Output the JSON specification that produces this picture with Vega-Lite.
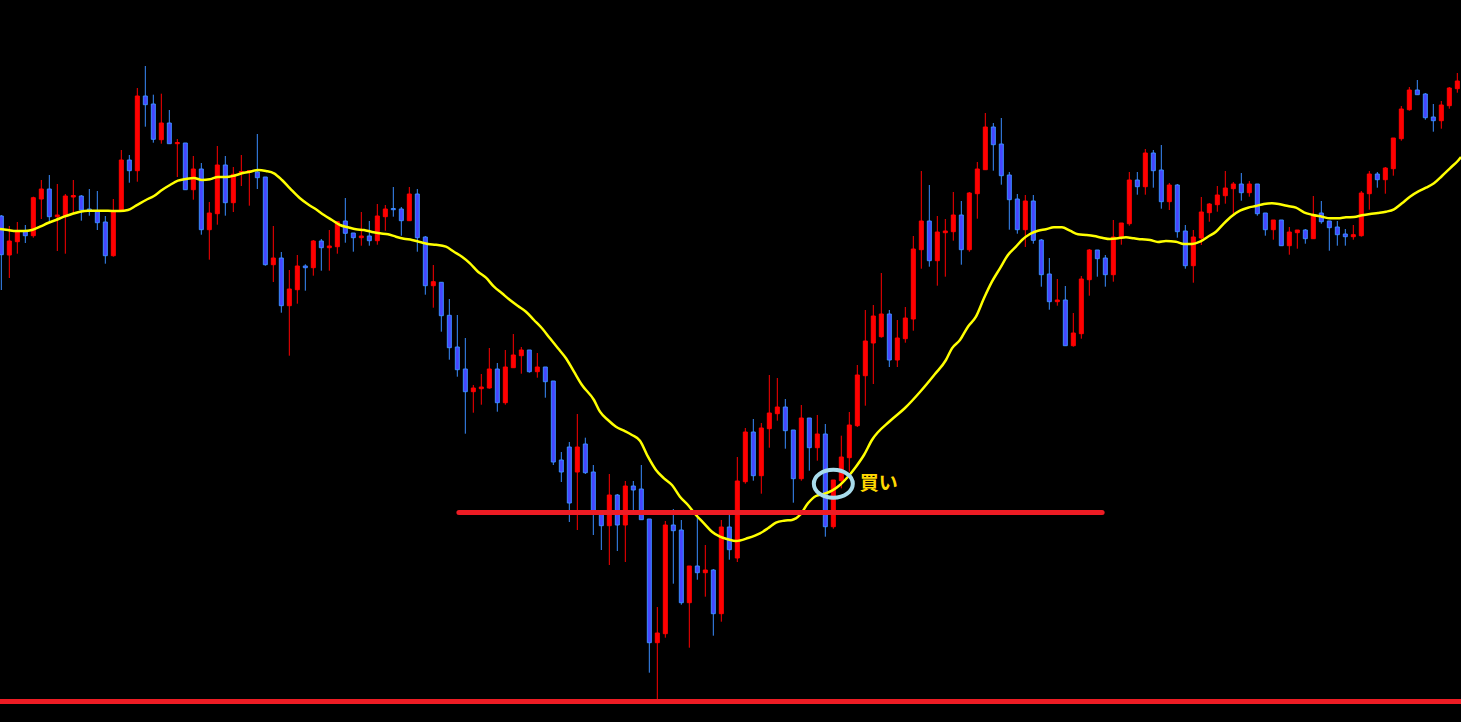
{
  "$schema": "https://vega.github.io/schema/vega-lite/v6.json",
  "width": 1461,
  "height": 722,
  "autosize": {"type": "none"},
  "padding": 0,
  "background": "#000000",
  "config": {"view": {"stroke": null}},
  "datasets": {
    "candles": [
      {"t":0,"o":506,"h":507,"l":432,"c":467.3},
      {"t":1,"o":467,"h":496,"l":444,"c":481},
      {"t":2,"o":480.3,"h":500,"l":468.3,"c":490.3},
      {"t":3,"o":490.3,"h":497,"l":479,"c":486.3},
      {"t":4,"o":486.3,"h":525.3,"l":484.3,"c":524.3},
      {"t":5,"o":523,"h":542,"l":503,"c":533},
      {"t":6,"o":533,"h":547,"l":500,"c":505.3},
      {"t":7,"o":505.3,"h":538,"l":471,"c":507},
      {"t":8,"o":506,"h":528,"l":468.3,"c":526},
      {"t":9,"o":525,"h":542,"l":509,"c":526.5},
      {"t":10,"o":526,"h":527,"l":501.3,"c":512},
      {"t":11,"o":513,"h":533,"l":506.3,"c":511.3},
      {"t":12,"o":511.3,"h":531,"l":492,"c":499.3},
      {"t":13,"o":500,"h":506,"l":458.3,"c":466.3},
      {"t":14,"o":466.3,"h":523,"l":465.3,"c":511.3},
      {"t":15,"o":511.3,"h":572,"l":511.3,"c":562},
      {"t":16,"o":562,"h":567,"l":539.3,"c":551.3},
      {"t":17,"o":551.3,"h":634,"l":540.3,"c":626},
      {"t":18,"o":626,"h":656,"l":595.3,"c":617.3},
      {"t":19,"o":618,"h":627.3,"l":579.3,"c":582.7},
      {"t":20,"o":582.3,"h":628.3,"l":578.3,"c":599},
      {"t":21,"o":599,"h":612,"l":578.3,"c":578.3},
      {"t":22,"o":578.3,"h":583,"l":545,"c":579.5},
      {"t":23,"o":579,"h":579,"l":532.3,"c":532.3},
      {"t":24,"o":532.3,"h":566,"l":522.3,"c":553},
      {"t":25,"o":553,"h":559,"l":487.3,"c":492.3},
      {"t":26,"o":492.3,"h":520,"l":462.3,"c":509},
      {"t":27,"o":508.3,"h":576,"l":497.3,"c":557},
      {"t":28,"o":557,"h":566,"l":506.3,"c":519.3},
      {"t":29,"o":519.3,"h":555,"l":510,"c":547.7},
      {"t":30,"o":549.3,"h":567,"l":536,"c":550.5},
      {"t":31,"o":550,"h":552,"l":516.3,"c":551.5},
      {"t":32,"o":550,"h":588,"l":533,"c":544.3},
      {"t":33,"o":545,"h":545,"l":456.3,"c":457.3},
      {"t":34,"o":457.3,"h":496,"l":440,"c":464},
      {"t":35,"o":464,"h":470,"l":409.3,"c":416.3},
      {"t":36,"o":416.3,"h":452,"l":366.3,"c":433},
      {"t":37,"o":432.3,"h":467,"l":418.3,"c":456},
      {"t":38,"o":456,"h":457.7,"l":431.3,"c":454.3},
      {"t":39,"o":454.3,"h":482,"l":446.3,"c":481},
      {"t":40,"o":481,"h":483,"l":451.3,"c":474.3},
      {"t":41,"o":474.3,"h":492,"l":451.3,"c":476},
      {"t":42,"o":475.3,"h":501,"l":468.3,"c":500.3},
      {"t":43,"o":501,"h":524,"l":479.3,"c":488.7},
      {"t":44,"o":489,"h":489,"l":470.3,"c":484.3},
      {"t":45,"o":484.3,"h":510,"l":476.3,"c":486},
      {"t":46,"o":486,"h":501,"l":476.3,"c":481.3},
      {"t":47,"o":481.3,"h":518,"l":477.3,"c":506},
      {"t":48,"o":505.3,"h":517,"l":491.3,"c":513},
      {"t":49,"o":513.5,"h":535,"l":505.3,"c":512.3},
      {"t":50,"o":513,"h":515,"l":486.3,"c":501.3},
      {"t":51,"o":501.3,"h":535,"l":501.3,"c":528},
      {"t":52,"o":528,"h":533,"l":470.3,"c":484.3},
      {"t":53,"o":485,"h":486,"l":427.3,"c":436.3},
      {"t":54,"o":436.3,"h":457,"l":414.3,"c":440.3},
      {"t":55,"o":439.7,"h":439.7,"l":390.3,"c":406.3},
      {"t":56,"o":406.7,"h":423,"l":362.3,"c":374.3},
      {"t":57,"o":375,"h":407,"l":345.3,"c":352.3},
      {"t":58,"o":353,"h":384,"l":288.3,"c":330.3},
      {"t":59,"o":330.3,"h":337,"l":309.3,"c":334},
      {"t":60,"o":333.3,"h":348,"l":317.3,"c":335},
      {"t":61,"o":334,"h":374,"l":333.3,"c":353},
      {"t":62,"o":353,"h":359,"l":310.3,"c":319.3},
      {"t":63,"o":319.3,"h":372,"l":317.3,"c":355},
      {"t":64,"o":354.3,"h":388,"l":354.3,"c":367},
      {"t":65,"o":366.3,"h":375,"l":348.3,"c":372},
      {"t":66,"o":372,"h":372,"l":349.3,"c":350.3},
      {"t":67,"o":350.3,"h":369,"l":344.3,"c":355},
      {"t":68,"o":355,"h":355,"l":324.3,"c":340.3},
      {"t":69,"o":341,"h":341,"l":257,"c":260},
      {"t":70,"o":262,"h":270,"l":240,"c":250},
      {"t":71,"o":275,"h":280,"l":200,"c":219},
      {"t":72,"o":250,"h":308,"l":192,"c":275},
      {"t":73,"o":278,"h":284.3,"l":248,"c":249.3},
      {"t":74,"o":250,"h":257,"l":187,"c":210},
      {"t":75,"o":210.3,"h":211,"l":172,"c":196.3},
      {"t":76,"o":196.3,"h":248,"l":157,"c":227},
      {"t":77,"o":227,"h":228,"l":171,"c":197},
      {"t":78,"o":197,"h":241,"l":160,"c":236},
      {"t":79,"o":236,"h":241,"l":212,"c":232},
      {"t":80,"o":233,"h":257,"l":202.3,"c":202.3},
      {"t":81,"o":203,"h":203,"l":49.3,"c":79.3},
      {"t":82,"o":79.3,"h":115,"l":23,"c":89},
      {"t":83,"o":88.3,"h":201,"l":84.3,"c":197},
      {"t":84,"o":197,"h":213,"l":138.3,"c":191.3},
      {"t":85,"o":192,"h":202,"l":117.3,"c":119.3},
      {"t":86,"o":119.3,"h":156,"l":74.3,"c":156},
      {"t":87,"o":156,"h":207,"l":142.3,"c":149.3},
      {"t":88,"o":149.3,"h":177,"l":125.3,"c":152},
      {"t":89,"o":152,"h":153,"l":86.3,"c":108.3},
      {"t":90,"o":108.3,"h":202,"l":100.3,"c":195},
      {"t":91,"o":195,"h":207,"l":162.3,"c":172.3},
      {"t":92,"o":164,"h":265,"l":160,"c":241},
      {"t":93,"o":240.3,"h":294,"l":238.3,"c":290},
      {"t":94,"o":290,"h":303,"l":241.3,"c":246.3},
      {"t":95,"o":246.3,"h":299,"l":228.3,"c":294},
      {"t":96,"o":293.3,"h":347,"l":274.3,"c":309},
      {"t":97,"o":308.3,"h":344,"l":301.3,"c":315},
      {"t":98,"o":315,"h":323,"l":273.3,"c":291.3},
      {"t":99,"o":292,"h":292,"l":219.3,"c":243.3},
      {"t":100,"o":243.3,"h":317,"l":241.3,"c":304},
      {"t":101,"o":304,"h":304,"l":251.3,"c":274.3},
      {"t":102,"o":274.3,"h":307,"l":261.3,"c":288},
      {"t":103,"o":288,"h":298,"l":185.3,"c":195.3},
      {"t":104,"o":195.3,"h":242,"l":193.3,"c":242},
      {"t":105,"o":241.3,"h":286.3,"l":233.7,"c":265},
      {"t":106,"o":264.3,"h":310,"l":250.3,"c":297},
      {"t":107,"o":296.3,"h":357,"l":295,"c":347},
      {"t":108,"o":346.3,"h":412,"l":316.3,"c":381},
      {"t":109,"o":379,"h":417,"l":338,"c":406},
      {"t":110,"o":385.3,"h":449,"l":384.3,"c":408},
      {"t":111,"o":408,"h":412,"l":355,"c":362},
      {"t":112,"o":362,"h":402,"l":355,"c":384},
      {"t":113,"o":383.3,"h":415,"l":379.3,"c":404},
      {"t":114,"o":403,"h":486,"l":391.3,"c":473},
      {"t":115,"o":472.3,"h":551,"l":453.3,"c":501},
      {"t":116,"o":501,"h":537,"l":455.3,"c":461.3},
      {"t":117,"o":461.3,"h":506,"l":436.3,"c":490},
      {"t":118,"o":489.3,"h":503,"l":445.3,"c":491},
      {"t":119,"o":490.3,"h":530,"l":481.3,"c":507},
      {"t":120,"o":507,"h":521,"l":457.3,"c":472.3},
      {"t":121,"o":472.3,"h":530,"l":470.3,"c":529},
      {"t":122,"o":528.3,"h":560,"l":503.3,"c":553},
      {"t":123,"o":552.3,"h":609,"l":552.3,"c":595},
      {"t":124,"o":595,"h":599,"l":551.3,"c":577.3},
      {"t":125,"o":578,"h":604,"l":537.3,"c":546.3},
      {"t":126,"o":547,"h":550,"l":492.3,"c":522.3},
      {"t":127,"o":523,"h":528,"l":488.3,"c":492.3},
      {"t":128,"o":492.3,"h":527,"l":475,"c":521},
      {"t":129,"o":521,"h":527,"l":478.3,"c":481.7},
      {"t":130,"o":482,"h":483,"l":435.3,"c":447.3},
      {"t":131,"o":448,"h":464,"l":412.3,"c":420.3},
      {"t":132,"o":420.3,"h":443,"l":416.3,"c":422},
      {"t":133,"o":422,"h":436,"l":376.3,"c":376.3},
      {"t":134,"o":376.3,"h":409,"l":375.3,"c":389},
      {"t":135,"o":388.3,"h":446,"l":383.3,"c":443},
      {"t":136,"o":442.3,"h":473,"l":426.3,"c":472},
      {"t":137,"o":472,"h":472,"l":445.3,"c":463.3},
      {"t":138,"o":464,"h":467,"l":435.3,"c":447.3},
      {"t":139,"o":447.3,"h":502,"l":440.3,"c":485},
      {"t":140,"o":484.3,"h":499,"l":477.3,"c":499},
      {"t":141,"o":498.3,"h":550,"l":496.3,"c":542},
      {"t":142,"o":542,"h":550,"l":527.3,"c":535.3},
      {"t":143,"o":535.3,"h":573,"l":527.3,"c":569},
      {"t":144,"o":569,"h":572,"l":534.3,"c":551.3},
      {"t":145,"o":552,"h":577,"l":513.3,"c":520.3},
      {"t":146,"o":520.3,"h":539,"l":512,"c":537},
      {"t":147,"o":537,"h":538,"l":484.3,"c":490.3},
      {"t":148,"o":491,"h":497,"l":453.3,"c":456.3},
      {"t":149,"o":456.3,"h":492,"l":439.3,"c":485},
      {"t":150,"o":484,"h":525,"l":477,"c":510},
      {"t":151,"o":509.3,"h":519,"l":500.3,"c":518},
      {"t":152,"o":517.3,"h":536,"l":510.3,"c":527},
      {"t":153,"o":526.3,"h":551,"l":518.3,"c":534},
      {"t":154,"o":533.3,"h":540,"l":507.3,"c":538},
      {"t":155,"o":538,"h":549,"l":521.3,"c":529.3},
      {"t":156,"o":529.3,"h":541,"l":525.3,"c":538},
      {"t":157,"o":538,"h":538,"l":506.3,"c":508.3},
      {"t":158,"o":509,"h":509,"l":486.3,"c":492.3},
      {"t":159,"o":492.3,"h":502,"l":482.3,"c":502},
      {"t":160,"o":502,"h":502,"l":476.3,"c":476.3},
      {"t":161,"o":476.3,"h":495,"l":467.3,"c":490},
      {"t":162,"o":489.3,"h":492,"l":473.3,"c":492},
      {"t":163,"o":492,"h":493,"l":478.3,"c":483.3},
      {"t":164,"o":483.3,"h":526,"l":483.3,"c":507},
      {"t":165,"o":509,"h":521,"l":498.3,"c":500.3},
      {"t":166,"o":501,"h":501,"l":471.3,"c":494.3},
      {"t":167,"o":495,"h":501,"l":476.3,"c":487.3},
      {"t":168,"o":488,"h":493,"l":476.3,"c":485.3},
      {"t":169,"o":485.3,"h":497,"l":482.3,"c":487.3},
      {"t":170,"o":486.3,"h":531,"l":485.3,"c":529},
      {"t":171,"o":528.3,"h":551,"l":512.3,"c":548},
      {"t":172,"o":548,"h":550,"l":534.3,"c":542.3},
      {"t":173,"o":542.3,"h":555,"l":528.3,"c":554},
      {"t":174,"o":553.3,"h":584,"l":546.3,"c":584},
      {"t":175,"o":583.3,"h":616,"l":581.3,"c":613},
      {"t":176,"o":612.3,"h":635,"l":611.3,"c":632},
      {"t":177,"o":632,"h":642,"l":627.3,"c":627.3},
      {"t":178,"o":628,"h":629,"l":602.3,"c":604.3},
      {"t":179,"o":605,"h":618,"l":590.3,"c":601.3},
      {"t":180,"o":601.3,"h":621,"l":593.3,"c":617},
      {"t":181,"o":616.3,"h":635,"l":613.3,"c":634},
      {"t":182,"o":633.3,"h":649,"l":629.3,"c":641}
    ],
    "ma": [
      {"t":-0.17,"v":493},{"t":0.83,"v":492},{"t":1.83,"v":491},{"t":2.83,"v":491},{"t":3.83,"v":492},
      {"t":4.83,"v":495.3},{"t":5.83,"v":499},{"t":6.83,"v":502},{"t":7.83,"v":505.3},{"t":8.83,"v":508},
      {"t":9.83,"v":510.3},{"t":10.83,"v":511.3},{"t":11.83,"v":511.3},{"t":12.83,"v":511.3},{"t":13.83,"v":511},
      {"t":14.83,"v":511},{"t":15.83,"v":512},{"t":16.83,"v":516.3},{"t":18.08,"v":522},{"t":19.08,"v":526},
      {"t":20.08,"v":532},{"t":21.08,"v":537},{"t":22.08,"v":541.3},{"t":23.08,"v":543},{"t":24.08,"v":544},
      {"t":25.08,"v":542},{"t":26.08,"v":542.7},{"t":27.08,"v":545},{"t":28.08,"v":545},{"t":29.08,"v":546.3},
      {"t":30.08,"v":548.7},{"t":31.08,"v":550.3},{"t":32.08,"v":552},{"t":33.08,"v":551},{"t":34.08,"v":548.7},
      {"t":35.08,"v":542},{"t":36.08,"v":533.7},{"t":37.33,"v":523.7},{"t":38.33,"v":517.7},{"t":39.33,"v":512.7},
      {"t":40.33,"v":507},{"t":41.33,"v":502},{"t":42.33,"v":497},{"t":43.33,"v":494.7},{"t":44.33,"v":492.7},
      {"t":45.33,"v":492},{"t":46.33,"v":490},{"t":47.33,"v":488.7},{"t":48.33,"v":487.7},{"t":49.33,"v":485.3},
      {"t":50.33,"v":483.3},{"t":51.33,"v":482},{"t":52.33,"v":480},{"t":53.33,"v":478},{"t":54.33,"v":477.3},
      {"t":55.58,"v":475.3},{"t":56.58,"v":470.3},{"t":57.58,"v":465.3},{"t":58.58,"v":458.7},{"t":59.58,"v":450.3},
      {"t":60.58,"v":444.3},{"t":61.58,"v":435.3},{"t":62.58,"v":428.7},{"t":63.58,"v":422},{"t":64.58,"v":416},
      {"t":65.58,"v":410.3},{"t":66.58,"v":402},{"t":67.58,"v":393.7},{"t":68.58,"v":383.7},{"t":69.58,"v":373.7},
      {"t":70.58,"v":363.7},{"t":71.58,"v":350.3},{"t":72.58,"v":337},{"t":74.08,"v":322},{"t":74.83,"v":310.3},
      {"t":75.83,"v":302},{"t":76.83,"v":295.3},{"t":77.83,"v":291.3},{"t":78.83,"v":287},{"t":79.83,"v":281.3},
      {"t":80.83,"v":265.3},{"t":81.83,"v":252},{"t":82.83,"v":243.7},{"t":83.83,"v":237},{"t":84.83,"v":225.3},
      {"t":85.83,"v":217},{"t":86.83,"v":207},{"t":87.83,"v":198.7},{"t":88.83,"v":190.3},{"t":89.83,"v":185.3},
      {"t":90.83,"v":182.7},{"t":91.83,"v":181},{"t":93.33,"v":184},{"t":94.83,"v":188.7},{"t":95.83,"v":193.7},
      {"t":96.83,"v":199.3},{"t":97.83,"v":201.3},{"t":98.83,"v":202},{"t":99.83,"v":207},{"t":100.83,"v":218.7},
      {"t":101.83,"v":226},{"t":102.83,"v":228},{"t":103.83,"v":231.3},{"t":104.83,"v":237},{"t":105.83,"v":245.3},
      {"t":106.83,"v":255.3},{"t":107.83,"v":267},{"t":108.83,"v":282},{"t":111.08,"v":301},{"t":112.96,"v":314},
      {"t":114.83,"v":330},{"t":116.71,"v":348},{"t":118.08,"v":362},{"t":118.83,"v":373.7},{"t":119.83,"v":382},
      {"t":120.83,"v":395.3},{"t":121.83,"v":405.3},{"t":122.83,"v":423.7},{"t":123.83,"v":440.3},{"t":124.83,"v":453.7},
      {"t":125.83,"v":467},{"t":126.83,"v":475.3},{"t":127.58,"v":482},{"t":128.58,"v":488},{"t":129.58,"v":491.3},
      {"t":130.58,"v":492.7},{"t":131.58,"v":494.7},{"t":132.58,"v":494.7},{"t":133.58,"v":491.3},{"t":134.58,"v":487.7},
      {"t":135.58,"v":487},{"t":136.58,"v":486},{"t":137.58,"v":484.3},{"t":138.58,"v":483},{"t":139.58,"v":483.7},
      {"t":140.58,"v":484.7},{"t":141.58,"v":483.7},{"t":142.58,"v":482.7},{"t":143.58,"v":482},{"t":144.58,"v":480},
      {"t":145.58,"v":481},{"t":146.83,"v":480.3},{"t":147.83,"v":478},{"t":148.83,"v":478},{"t":149.83,"v":480.3},
      {"t":150.83,"v":485.3},{"t":151.83,"v":490.3},{"t":152.83,"v":498.7},{"t":153.83,"v":506},{"t":154.83,"v":511.3},
      {"t":155.83,"v":514.3},{"t":156.83,"v":516},{"t":157.83,"v":518},{"t":158.83,"v":518.7},{"t":159.83,"v":517.7},
      {"t":160.83,"v":516},{"t":161.83,"v":514.3},{"t":162.83,"v":509.7},{"t":163.83,"v":507.3},{"t":165.08,"v":505.3},
      {"t":166.08,"v":503.7},{"t":167.08,"v":503.7},{"t":168.08,"v":504.7},{"t":169.08,"v":505},{"t":170.08,"v":506.7},
      {"t":171.08,"v":508},{"t":172.08,"v":509},{"t":173.08,"v":510.3},{"t":174.08,"v":512.7},{"t":175.08,"v":518.7},
      {"t":176.08,"v":525.3},{"t":177.08,"v":530.3},{"t":178.08,"v":534.3},{"t":179.08,"v":538.7},{"t":180.08,"v":546},
      {"t":181.08,"v":553.7},{"t":182.08,"v":561.3},{"t":182.46,"v":565}
    ],
    "levels": [
      {"t1":57.2,"t2":137.6,"v":209.5}
    ],
    "base": [
      {"t1":-0.166,"t2":182.46,"v":20.5}
    ],
    "notes": [
      {"t":104.0,"v":238.2,"tt":107.3,"label":"買い"}
    ]
  },
  "layer": [
    {
      "data": {"name": "candles"},
      "mark": {"type": "rule", "strokeWidth": 1},
      "encoding": {
        "x": {"field": "t", "type": "quantitative", "scale": {"domain": [-0.166, 182.46], "nice": false, "zero": false, "padding": 0}, "axis": null},
        "y": {"field": "l", "type": "quantitative", "scale": {"domain": [0, 722], "nice": false, "zero": false, "padding": 0}, "axis": null},
        "y2": {"field": "h"},
        "color": {"condition": {"test": "datum.c >= datum.o", "value": "#ff0000"}, "value": "#3a8cff"}
      }
    },
    {
      "data": {"name": "candles"},
      "mark": {"type": "bar", "size": 4, "strokeWidth": 1},
      "encoding": {
        "x": {"field": "t", "type": "quantitative"},
        "y": {"field": "o", "type": "quantitative"},
        "y2": {"field": "c"},
        "fill": {"condition": {"test": "datum.c >= datum.o", "value": "#ff0000"}, "value": "#4646ff"},
        "stroke": {"condition": {"test": "datum.c >= datum.o", "value": "#ff0000"}, "value": "#3a8cff"}
      }
    },
    {
      "data": {"name": "ma"},
      "mark": {"type": "line", "color": "#ffff00", "strokeWidth": 2.5, "interpolate": "monotone"},
      "encoding": {
        "x": {"field": "t", "type": "quantitative"},
        "y": {"field": "v", "type": "quantitative"}
      }
    },
    {
      "data": {"name": "levels"},
      "mark": {"type": "rule", "color": "#ed1c24", "strokeWidth": 5, "strokeCap": "round"},
      "encoding": {
        "x": {"field": "t1", "type": "quantitative"},
        "x2": {"field": "t2"},
        "y": {"field": "v", "type": "quantitative"}
      }
    },
    {
      "data": {"name": "base"},
      "mark": {"type": "rule", "color": "#ed1c24", "strokeWidth": 5, "strokeCap": "butt"},
      "encoding": {
        "x": {"field": "t1", "type": "quantitative"},
        "x2": {"field": "t2"},
        "y": {"field": "v", "type": "quantitative"}
      }
    },
    {
      "data": {"name": "notes"},
      "mark": {"type": "point", "shape": "M -1 0 A 1 0.72 0 1 1 1 0 A 1 0.72 0 1 1 -1 0 Z", "size": 1521, "filled": false, "stroke": "#a8dcec", "strokeWidth": 4, "opacity": 1},
      "encoding": {
        "x": {"field": "t", "type": "quantitative"},
        "y": {"field": "v", "type": "quantitative"}
      }
    },
    {
      "data": {"name": "notes"},
      "mark": {"type": "text", "font": "Noto Sans CJK JP", "fontWeight": "bold", "fontSize": 19, "color": "#ffd800", "align": "left", "baseline": "middle"},
      "encoding": {
        "x": {"field": "tt", "type": "quantitative"},
        "y": {"field": "v", "type": "quantitative"},
        "text": {"field": "label"}
      }
    }
  ]
}
